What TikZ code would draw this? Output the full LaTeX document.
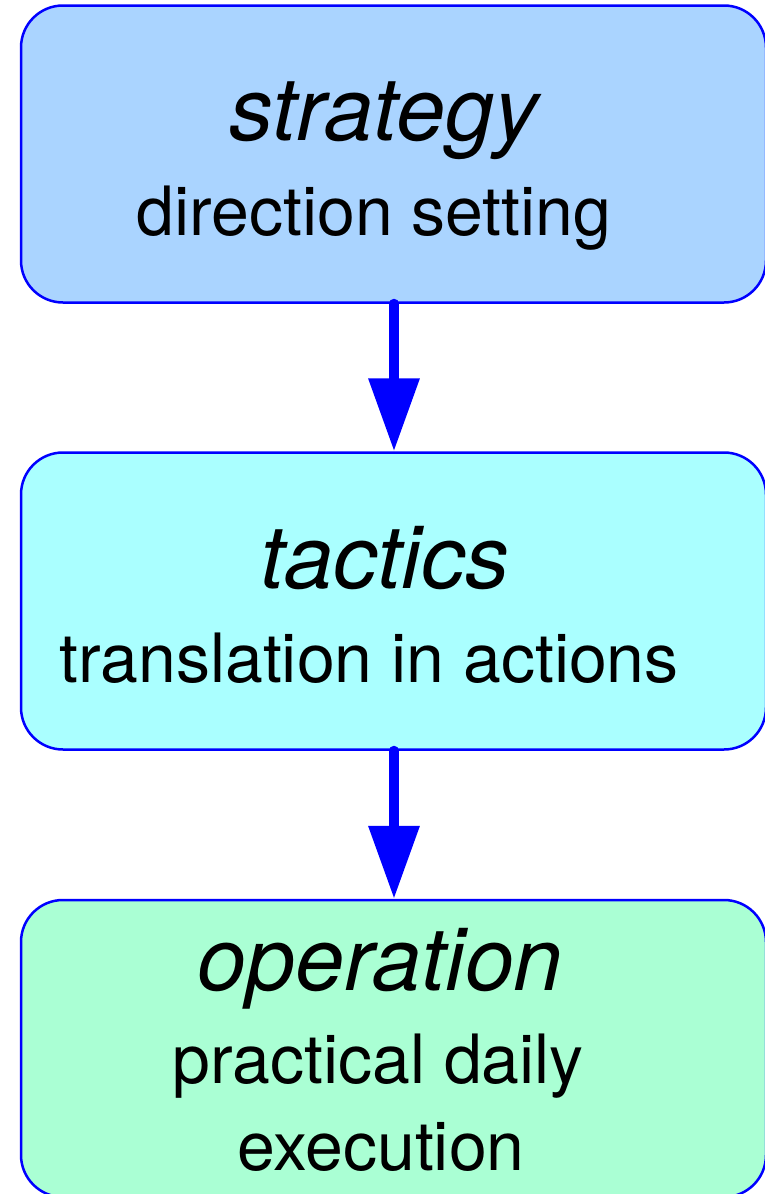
\documentclass[tikz,border=0pt]{standalone}
\usepackage{fontspec}
\setmainfont{TeX Gyre Heros}
\usetikzlibrary{arrows.meta}
\definecolor{fillA}{RGB}{170,212,255}
\definecolor{fillB}{RGB}{170,255,255}
\definecolor{fillC}{RGB}{170,255,212}
\definecolor{edgeblue}{RGB}{0,0,255}
\tikzset{
  stagebox/.style={draw=edgeblue, line width=2.5pt, rounded corners=42pt,
    minimum width=745pt, minimum height=297pt, inner sep=0pt},
  titletext/.style={anchor=base, inner sep=0pt, font=\fontsize{88}{100}\selectfont\itshape},
  subtext/.style={anchor=base, inner sep=0pt, font=\fontsize{68}{87}\selectfont},
  flowarrow/.style={draw=edgeblue, line width=10pt, line cap=round,
    -{Triangle[length=73pt,width=49pt]}}
}
\begin{document}
\begin{tikzpicture}[x=1pt,y=-1pt]
\useasboundingbox (0,0) rectangle (765,1194);
\node[stagebox, fill=fillA] (s) at (393.5,154) {};
\node[stagebox, fill=fillB] (t) at (393.5,601) {};
\node[stagebox, fill=fillC] (o) at (393.5,1048.5) {};
\node[titletext] (s1) at (384,140) {strategy};
\node[subtext] (s2) at (374,235) {direction setting};
\node[titletext] (t1) at (385,588) {tactics};
\node[subtext] (t2) at (369,682) {translation in actions};
\node[titletext] (o1) at (380,990) {operation};
\node[subtext] (o2) at (378,1083) {practical daily};
\node[subtext] (o3) at (381,1170) {execution};
\draw[flowarrow] (s.south -| 394,0) -- (t.north -| 394,0);
\draw[flowarrow] (t.south -| 394,0) -- (o.north -| 394,0);
\end{tikzpicture}
\end{document}
